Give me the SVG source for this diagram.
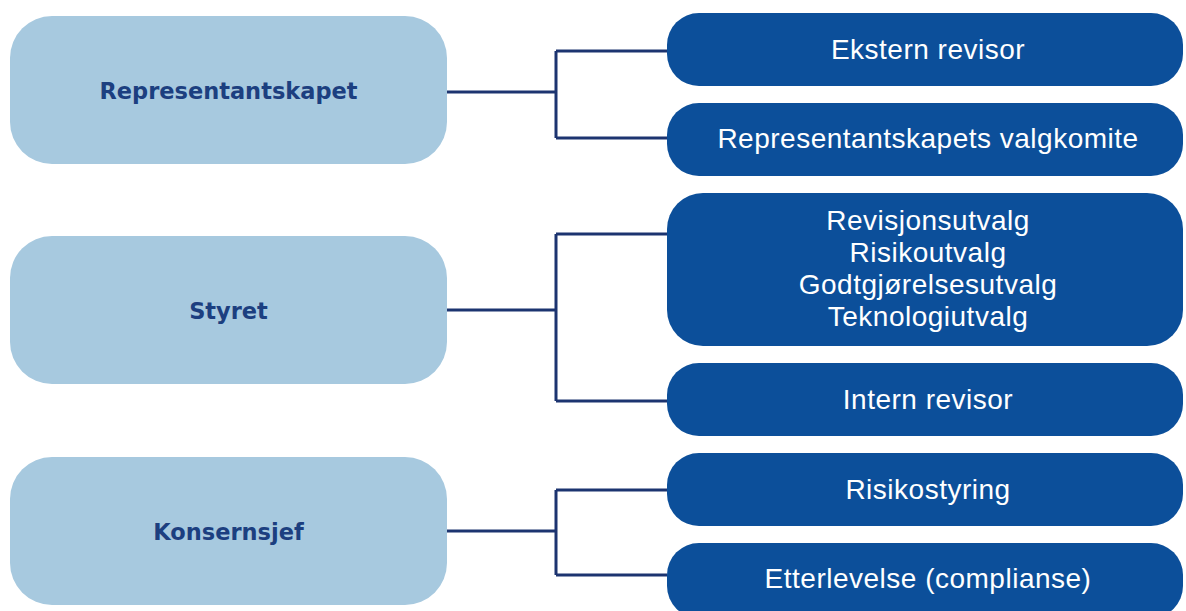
<svg xmlns="http://www.w3.org/2000/svg" width="1186" height="611" viewBox="0 0 1186 611">
<style>
.lbox{fill:#a7c9df;}
.rbox{fill:#0c4f9a;}
.ltxt{font-family:"DejaVu Sans","Liberation Sans",sans-serif;font-weight:700;font-size:22.5px;fill:#1c3f80;text-anchor:middle;}
.rtxt{font-family:"Liberation Sans",Arial,sans-serif;font-size:28px;letter-spacing:0.5px;fill:#ffffff;text-anchor:middle;}
.conn{fill:none;stroke:#1c3470;stroke-width:3;}
</style>
<rect width="1186" height="611" fill="#ffffff"/>
<g id="connectors">
<path class="conn" d="M447 92 H556 M556 51 V138 M556 51 H667 M556 138 H667"/>
<path class="conn" d="M447 310 H556 M556 234 V401 M556 234 H667 M556 401 H667"/>
<path class="conn" d="M447 531 H556 M556 490 V575 M556 490 H667 M556 575 H667"/>
</g>
<g id="node-representantskapet">
<rect class="lbox" x="10" y="16" width="437" height="148" rx="42"/>
<text class="ltxt" x="228.5" y="99">Representantskapet</text>
</g>
<g id="node-styret">
<rect class="lbox" x="10" y="236" width="437" height="148" rx="42"/>
<text class="ltxt" x="228.5" y="319">Styret</text>
</g>
<g id="node-konsernsjef">
<rect class="lbox" x="10" y="457" width="437" height="148" rx="42"/>
<text class="ltxt" x="228.5" y="540">Konsernsjef</text>
</g>
<g id="node-ekstern-revisor">
<rect class="rbox" x="667" y="13" width="516" height="73" rx="32"/>
<text class="rtxt" x="928" y="59">Ekstern revisor</text>
</g>
<g id="node-valgkomite">
<rect class="rbox" x="667" y="103" width="516" height="73" rx="32"/>
<text class="rtxt" x="928" y="148">Representantskapets valgkomite</text>
</g>
<g id="node-utvalg">
<rect class="rbox" x="667" y="193" width="516" height="153" rx="36"/>
<text class="rtxt" x="928" y="230">Revisjonsutvalg</text>
<text class="rtxt" x="928" y="262">Risikoutvalg</text>
<text class="rtxt" x="928" y="294">Godtgjørelsesutvalg</text>
<text class="rtxt" x="928" y="326">Teknologiutvalg</text>
</g>
<g id="node-intern-revisor">
<rect class="rbox" x="667" y="363" width="516" height="73" rx="32"/>
<text class="rtxt" x="928" y="409">Intern revisor</text>
</g>
<g id="node-risikostyring">
<rect class="rbox" x="667" y="453" width="516" height="73" rx="32"/>
<text class="rtxt" x="928" y="499">Risikostyring</text>
</g>
<g id="node-etterlevelse">
<rect class="rbox" x="667" y="543" width="516" height="75" rx="32"/>
<text class="rtxt" x="928" y="588">Etterlevelse (complianse)</text>
</g>
</svg>
